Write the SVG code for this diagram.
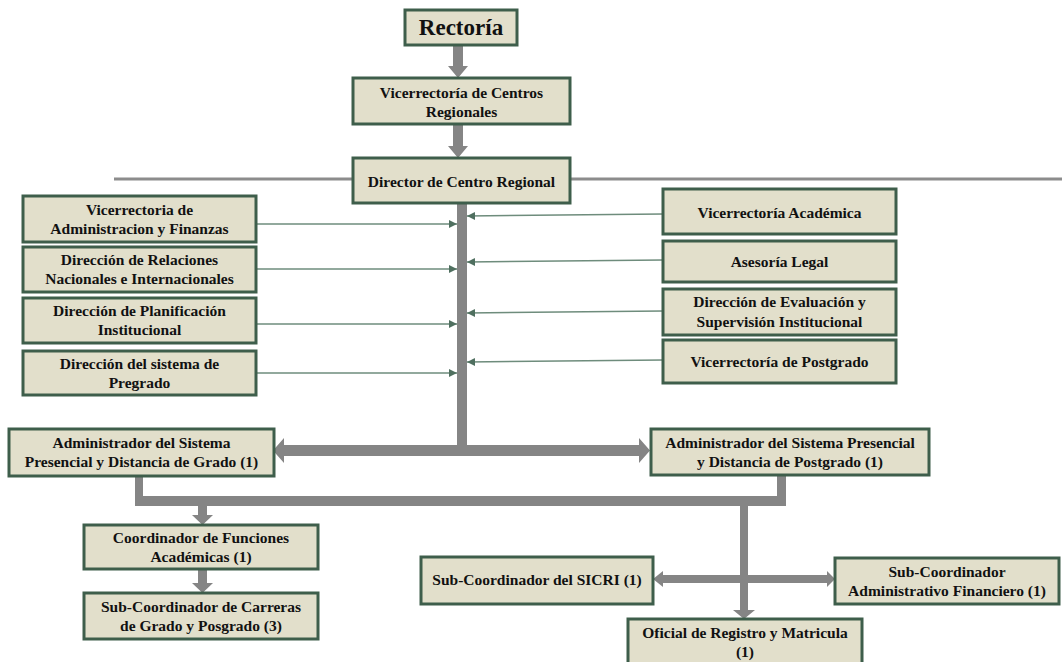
<svg xmlns="http://www.w3.org/2000/svg" width="1062" height="662" viewBox="0 0 1062 662">
<style>
.box{fill:#e2dfcb;stroke:#3e5e4b;stroke-width:3}
.t{font-family:"Liberation Serif",serif;font-weight:bold;font-size:15.5px;fill:#111;text-anchor:middle}
.big{font-size:23px}
.thick{fill:#858585}
.thin{stroke:#6e8c7c;stroke-width:1.5;fill:none;marker-end:url(#ah)}
.hline{stroke:#8c8c8c;stroke-width:3}
</style>
<defs>
<marker id="ah" markerUnits="userSpaceOnUse" markerWidth="10" markerHeight="10" refX="8" refY="4" orient="auto">
<path d="M0,0 L8,4 L0,8 Z" fill="#4f6f5f"/>
</marker>
</defs>
<rect width="1062" height="662" fill="#fff"/>
<g id="connectors">
<line class="hline" x1="114" y1="179" x2="353" y2="179"/>
<line class="hline" x1="570" y1="179" x2="1062" y2="179"/>
<polygon class="thick" points="453,45 463,45 463,66 468,66 458,78 448,66 453,66"/>
<polygon class="thick" points="453,124 463,124 463,146 468,146 458,158 448,146 453,146"/>
<rect class="thick" x="457" y="203" width="10" height="247"/>
<line class="thin" x1="256" y1="224" x2="457" y2="224"/>
<line class="thin" x1="256" y1="269" x2="457" y2="269"/>
<line class="thin" x1="256" y1="324" x2="457" y2="324"/>
<line class="thin" x1="256" y1="373" x2="457" y2="373"/>
<line class="thin" x1="663" y1="214" x2="467" y2="216"/>
<line class="thin" x1="663" y1="260" x2="467" y2="262"/>
<line class="thin" x1="663" y1="311" x2="467" y2="313"/>
<line class="thin" x1="663" y1="360" x2="467" y2="362"/>
<polygon class="thick" points="273,450.5 284,438 284,445 639,445 639,438 650,450.5 639,463 639,456 284,456 284,463"/>
<rect class="thick" x="135" y="476" width="8" height="30"/>
<rect class="thick" x="135" y="496" width="651" height="10"/>
<rect class="thick" x="777" y="475" width="9" height="31"/>
<polygon class="thick" points="198,506 207,506 207,515 213,515 202.5,525 192,515 198,515"/>
<polygon class="thick" points="198,569 207,569 207,583 213,583 202.5,593 192,583 198,583"/>
<polygon class="thick" points="740,506 748,506 748,610 755,610 744,619 733,610 740,610"/>
<polygon class="thick" points="653,579 663,571 663,575 827,575 827,571 835,579 827,587 827,583 663,583 663,587"/>
</g>
<g id="rectoria"><rect class="box" x="405" y="10" width="112" height="35"/><text class="t big" x="461" y="35">Rectoría</text></g>
<g id="vicerrectoria-centros"><rect class="box" x="353" y="78" width="217" height="46"/><text class="t" x="461.5" y="98">Vicerrectoría de Centros</text><text class="t" x="461.5" y="117">Regionales</text></g>
<g id="director"><rect class="box" x="353" y="158" width="217" height="45"/><text class="t" x="461.5" y="187">Director de Centro Regional</text></g>
<g id="vr-admin"><rect class="box" x="23" y="196" width="233" height="46"/><text class="t" x="139.5" y="215">Vicerrectoria de</text><text class="t" x="139.5" y="234">Administracion y Finanzas</text></g>
<g id="dir-relaciones"><rect class="box" x="23" y="247" width="233" height="45"/><text class="t" x="139.5" y="265">Dirección de Relaciones</text><text class="t" x="139.5" y="284">Nacionales e Internacionales</text></g>
<g id="dir-planificacion"><rect class="box" x="23" y="298" width="233" height="45"/><text class="t" x="139.5" y="316">Dirección de Planificación</text><text class="t" x="139.5" y="335">Institucional</text></g>
<g id="dir-pregrado"><rect class="box" x="23" y="351" width="233" height="44"/><text class="t" x="139.5" y="369">Dirección del sistema de</text><text class="t" x="139.5" y="388">Pregrado</text></g>
<g id="vr-academica"><rect class="box" x="663" y="189" width="233" height="45"/><text class="t" x="779.5" y="218">Vicerrectoría Académica</text></g>
<g id="asesoria"><rect class="box" x="663" y="241" width="233" height="41"/><text class="t" x="779.5" y="267">Asesoría Legal</text></g>
<g id="dir-evaluacion"><rect class="box" x="663" y="289" width="233" height="46"/><text class="t" x="779.5" y="307">Dirección de Evaluación y</text><text class="t" x="779.5" y="327">Supervisión Institucional</text></g>
<g id="vr-postgrado"><rect class="box" x="663" y="340" width="233" height="43"/><text class="t" x="779.5" y="367">Vicerrectoría de Postgrado</text></g>
<g id="admin-grado"><rect class="box" x="9" y="429" width="265" height="47"/><text class="t" x="141.5" y="448">Administrador del Sistema</text><text class="t" x="141.5" y="467">Presencial y Distancia de Grado (1)</text></g>
<g id="admin-postgrado"><rect class="box" x="651" y="429" width="278" height="46"/><text class="t" x="790" y="448">Administrador del Sistema Presencial</text><text class="t" x="790" y="467">y Distancia de Postgrado (1)</text></g>
<g id="coord-funciones"><rect class="box" x="84" y="525" width="234" height="44"/><text class="t" x="201" y="543">Coordinador de Funciones</text><text class="t" x="201" y="562">Académicas (1)</text></g>
<g id="subcoord-carreras"><rect class="box" x="84" y="593" width="234" height="46"/><text class="t" x="201" y="612">Sub-Coordinador de Carreras</text><text class="t" x="201" y="631">de Grado y Posgrado (3)</text></g>
<g id="subcoord-sicri"><rect class="box" x="421" y="557" width="232" height="47"/><text class="t" x="537" y="585">Sub-Coordinador del SICRI (1)</text></g>
<g id="subcoord-admin"><rect class="box" x="835" y="558" width="224" height="46"/><text class="t" x="947" y="577">Sub-Coordinador</text><text class="t" x="947" y="596">Administrativo Financiero (1)</text></g>
<g id="oficial-registro"><rect class="box" x="628" y="619" width="234" height="52"/><text class="t" x="745" y="638">Oficial de Registro y Matricula</text><text class="t" x="745" y="657">(1)</text></g>
</svg>
